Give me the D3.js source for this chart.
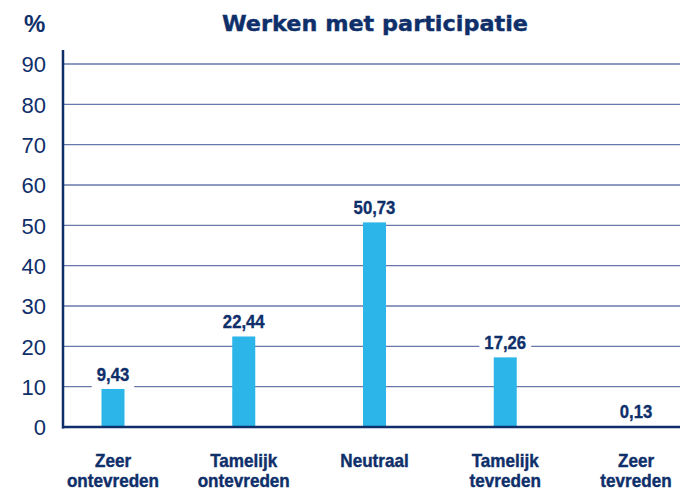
<!DOCTYPE html>
<html>
<head>
<meta charset="utf-8">
<script src="https://cdn.jsdelivr.net/npm/d3@7"></script>
<style>
  html, body { margin: 0; padding: 0; background: #fff; }
  svg { display: block; }
</style>
</head>
<body>
<svg id="chart" width="680" height="493"></svg>
<script>
// Satisfaction categories (two-line labels) and percentages
const categories = [
  ["Zeer", "ontevreden"],
  ["Tamelijk", "ontevreden"],
  ["Neutraal"],
  ["Tamelijk", "tevreden"],
  ["Zeer", "tevreden"]
];
const values = [9.43, 22.44, 50.73, 17.26, 0.13];
const valueLabels = ["9,43", "22,44", "50,73", "17,26", "0,13"];
const yTicks = [0, 10, 20, 30, 40, 50, 60, 70, 80, 90];
const title = "Werken met participatie";

const navy = "#0f2f6a";
const gridColor = "#6878aa";
const barColor = "#2bb5e8";
const sans = "'Liberation Sans', Arial, sans-serif";

const svg = d3.select("#chart");

const x = d3.scalePoint()
  .domain(d3.range(categories.length))
  .range([113, 636]);

const y = d3.scaleLinear()
  .domain([0, 90])
  .range([427, 64]);

const barWidth = 23;

// Horizontal gridlines
svg.append("g")
  .selectAll("line")
  .data(yTicks.filter(d => d > 0))
  .join("line")
  .attr("x1", 63)
  .attr("x2", 680)
  .attr("y1", d => y(d))
  .attr("y2", d => y(d))
  .attr("stroke", gridColor)
  .attr("stroke-width", 1.3);

// Y axis tick labels
const yAxis = d3.axisLeft(y).tickValues(yTicks).tickSize(0).tickPadding(0);
const yg = svg.append("g").attr("transform", "translate(46,0)").call(yAxis);
yg.select(".domain").remove();
yg.selectAll("text")
  .attr("fill", navy)
  .attr("font-family", sans)
  .attr("font-size", 22)
  .attr("dy", "0.36em");

// Value labels: white backdrop reaching down to the bar top, interrupting gridlines
const labels = svg.append("g")
  .selectAll("g")
  .data(values)
  .join("g")
  .attr("transform", (d, i) => `translate(${x(i)},${y(d)})`);

const labelText = labels.append("text")
  .attr("transform", "translate(0,-8) scale(0.88,1)")
  .attr("text-anchor", "middle")
  .attr("font-family", sans)
  .attr("font-weight", "bold")
  .attr("font-size", 19)
  .attr("fill", navy)
  .attr("stroke", navy)
  .attr("stroke-width", 0.35)
  .text((d, i) => valueLabels[i]);

labels.insert("rect", "text")
  .each(function (d, i) {
    const w = labelText.nodes()[i].getComputedTextLength() * 0.88 + 10;
    d3.select(this)
      .attr("x", -w / 2)
      .attr("width", w)
      .attr("y", -26)
      .attr("height", 26);
  })
  .attr("fill", "#fff");

// Bars
svg.append("g")
  .selectAll("rect")
  .data(values)
  .join("rect")
  .attr("x", (d, i) => x(i) - barWidth / 2)
  .attr("width", barWidth)
  .attr("y", d => y(d))
  .attr("height", d => y(0) - y(d))
  .attr("fill", barColor);

// Axis lines
svg.append("line")
  .attr("x1", 63).attr("x2", 63)
  .attr("y1", 50).attr("y2", 428.5)
  .attr("stroke", navy).attr("stroke-width", 2.5);
svg.append("line")
  .attr("x1", 62).attr("x2", 680)
  .attr("y1", y(0)).attr("y2", y(0))
  .attr("stroke", navy).attr("stroke-width", 2.5);

// Category labels
svg.append("g")
  .selectAll("text")
  .data(categories)
  .join("text")
  .attr("transform", (d, i) => `translate(${x(i)},0) scale(0.95,1)`)
  .attr("text-anchor", "middle")
  .attr("font-family", sans)
  .attr("font-weight", "bold")
  .attr("font-size", 18)
  .attr("fill", navy)
  .attr("stroke", navy)
  .attr("stroke-width", 0.4)
  .each(function (lines) {
    const t = d3.select(this);
    lines.forEach((line, j) => {
      t.append("tspan")
        .attr("x", 0)
        .attr("y", 467 + j * 20)
        .text(line);
    });
  });

// Title and unit
svg.append("text")
  .attr("x", 375)
  .attr("y", 31)
  .attr("text-anchor", "middle")
  .attr("font-family", "'DejaVu Sans', sans-serif")
  .attr("font-weight", "bold")
  .attr("font-size", 22)
  .attr("fill", navy)
  .attr("stroke", navy)
  .attr("stroke-width", 0.4)
  .attr("textLength", 306)
  .attr("lengthAdjust", "spacingAndGlyphs")
  .text(title);

svg.append("text")
  .attr("x", 24)
  .attr("y", 32)
  .attr("font-family", sans)
  .attr("font-weight", "bold")
  .attr("font-size", 24)
  .attr("fill", navy)
  .text("%");
</script>
</body>
</html>
